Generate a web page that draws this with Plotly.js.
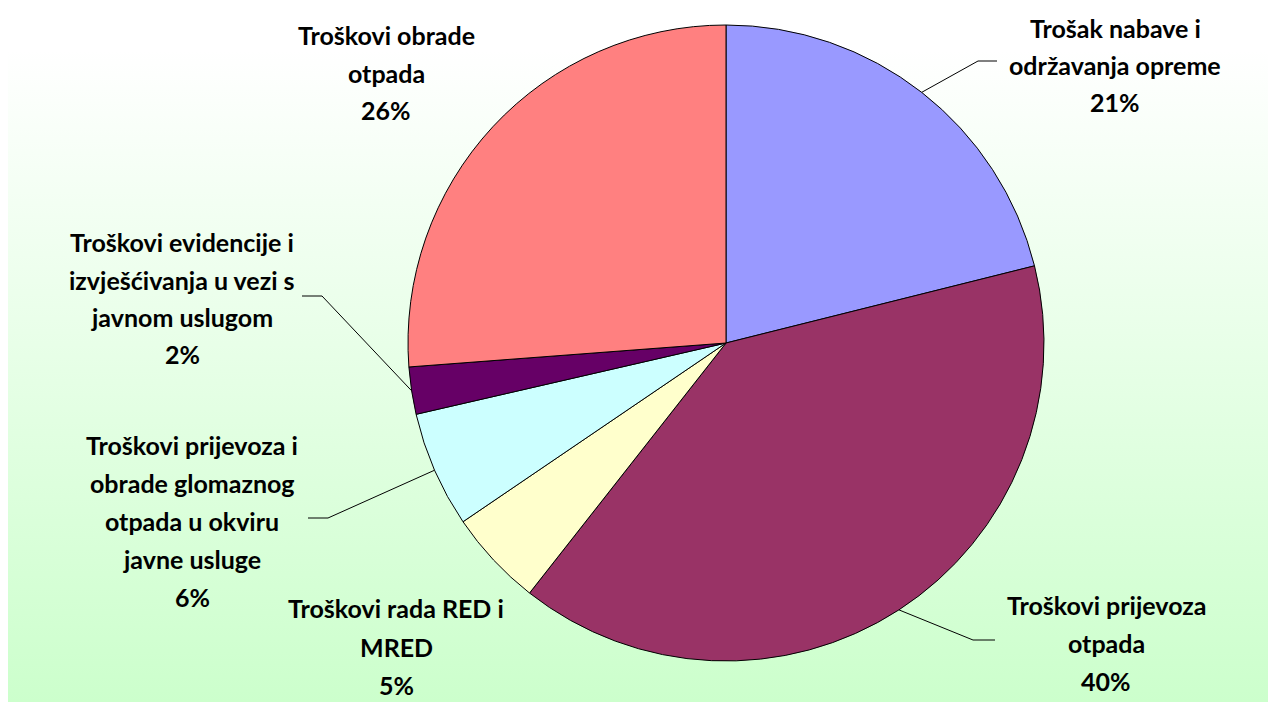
<!DOCTYPE html>
<html><head><meta charset="utf-8">
<script src="https://cdn.plot.ly/plotly-3.0.1.min.js"></script>
<style>
html,body{margin:0;padding:0;background:#fff;}
#wrap{position:relative;width:1268px;height:702px;overflow:hidden;}
#bg{position:absolute;left:8px;top:50px;right:0;bottom:0;background:linear-gradient(to bottom,#ffffff 0%,#ccffcc 100%);}
#chart{position:absolute;left:0;top:0;width:1268px;height:702px;}
</style></head><body>
<div id="wrap"><div id="bg"></div><div id="chart"></div></div>
<script>
// ---- data ----
const labelLines = [
  ['Trošak nabave i', 'održavanja opreme'],
  ['Troškovi prijevoza', 'otpada'],
  ['Troškovi rada RED i', 'MRED'],
  ['Troškovi prijevoza i', 'obrade glomaznog', 'otpada u okviru', 'javne usluge'],
  ['Troškovi evidencije i', 'izvješćivanja u vezi s', 'javnom uslugom'],
  ['Troškovi obrade', 'otpada']
];
const categories = labelLines.map(l => l.join(' '));
const values = [21.1, 39.5, 4.9, 5.9, 2.4, 26.2];
const colors = ['#9999FF', '#993366', '#FFFFCC', '#CCFFFF', '#660066', '#FF8080'];

// ---- layout constants (pixels) ----
const W = 1268, H = 702;
const cx = 726, cy = 343, R = 318;
const labelPos = [
  {x: 1115, y: 28, dy: 37},
  {x: 1106, y: 605, dy: 38},
  {x: 396, y: 608, dy: 38.5},
  {x: 192, y: 445, dy: 38},
  {x: 182, y: 242, dy: 37.5},
  {x: 386, y: 35, dy: 37.5}
];
const leaders = [
  {i: 0, elbow: [978, 61], end: [997, 61]},
  {i: 1, elbow: [973, 640], end: [995, 640]},
  {i: 3, elbow: [328, 518], end: [308, 518]},
  {i: 4, elbow: [322, 296], end: [302, 296]}
];

const px = x => x / W;
const py = y => 1 - y / H;
const total = values.reduce((a, b) => a + b, 0);
const pct = v => Math.round(Math.round(v / total * 1000) / 10) + '%';
const font = {family: 'Lato, "Noto Sans", sans-serif', size: 25, color: '#000000', weight: 700};

const annotations = [];
labelLines.forEach((lines, i) => {
  const all = lines.concat([pct(values[i])]);
  const p = labelPos[i];
  all.forEach((t, k) => {
    annotations.push({
      x: px(p.x), y: py(p.y + k * p.dy), xref: 'paper', yref: 'paper',
      xanchor: 'center', yanchor: 'middle', showarrow: false, text: t, font: font
    });
  });
});

const shapes = [];
const cum = [];
let acc = 0;
values.forEach(v => { cum.push(acc); acc += v; });
leaders.forEach(L => {
  const mid = (cum[L.i] + values[L.i] / 2) / total;
  const th = 2 * Math.PI * mid;
  const sx = cx + R * Math.sin(th), sy = cy - R * Math.cos(th);
  shapes.push({
    type: 'path', xref: 'paper', yref: 'paper',
    path: 'M ' + px(sx) + ' ' + py(sy) + ' L ' + px(L.elbow[0]) + ' ' + py(L.elbow[1]) + ' L ' + px(L.end[0]) + ' ' + py(L.end[1]),
    line: {color: '#000000', width: 1}
  });
});

const trace = {
  type: 'pie',
  values: values,
  labels: categories,
  marker: {colors: colors, line: {color: '#000000', width: 1}},
  sort: false,
  direction: 'clockwise',
  rotation: 0,
  textinfo: 'none',
  hoverinfo: 'none',
  automargin: false,
  domain: {x: [px(cx - R), px(cx + R)], y: [py(cy + R), py(cy - R)]}
};

Plotly.newPlot('chart', [trace], {
  width: W, height: H,
  margin: {l: 0, r: 0, t: 0, b: 0, pad: 0},
  paper_bgcolor: 'rgba(0,0,0,0)',
  plot_bgcolor: 'rgba(0,0,0,0)',
  showlegend: false,
  annotations: annotations,
  shapes: shapes
}, {staticPlot: true, displayModeBar: false});
</script>
</body></html>
